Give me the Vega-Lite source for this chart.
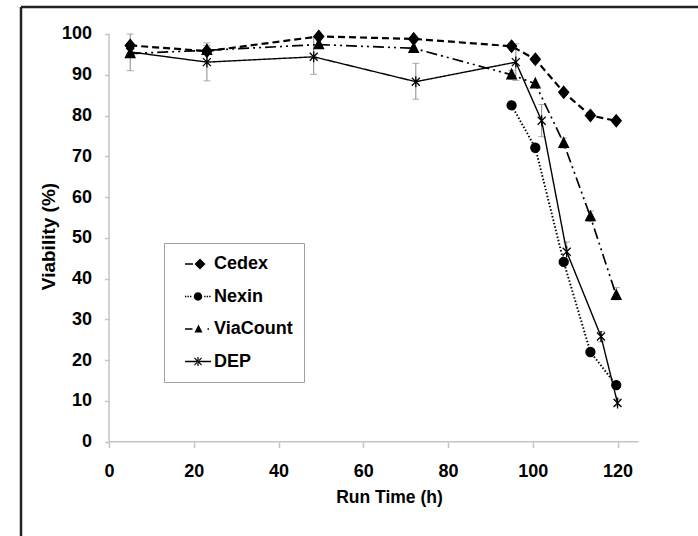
{
  "$schema": "https://vega.github.io/schema/vega-lite/v6.json",
  "width": 677,
  "height": 529,
  "autosize": {"type": "none"},
  "padding": {"left": 21, "top": 7, "right": 0, "bottom": 0},
  "background": "white",
  "config": {
    "view": {"stroke": null},
    "font": "Liberation Sans, Arial, sans-serif"
  },
  "datasets": {
    "series": [
      {"series": "Cedex", "h": 5.0, "v": 97.2},
      {"series": "Cedex", "h": 23.1, "v": 95.8},
      {"series": "Cedex", "h": 49.5, "v": 99.4},
      {"series": "Cedex", "h": 71.9, "v": 98.8},
      {"series": "Cedex", "h": 95.0, "v": 97.0},
      {"series": "Cedex", "h": 100.6, "v": 93.8},
      {"series": "Cedex", "h": 107.3, "v": 85.7},
      {"series": "Cedex", "h": 113.6, "v": 80.0},
      {"series": "Cedex", "h": 119.7, "v": 78.7},
      {"series": "Nexin", "h": 95.0, "v": 82.5},
      {"series": "Nexin", "h": 100.6, "v": 72.1},
      {"series": "Nexin", "h": 107.3, "v": 44.1},
      {"series": "Nexin", "h": 113.6, "v": 22.0},
      {"series": "Nexin", "h": 119.7, "v": 13.9},
      {"series": "ViaCount", "h": 5.0, "v": 95.2},
      {"series": "ViaCount", "h": 23.1, "v": 96.0},
      {"series": "ViaCount", "h": 49.5, "v": 97.4},
      {"series": "ViaCount", "h": 71.9, "v": 96.5},
      {"series": "ViaCount", "h": 95.0, "v": 90.0},
      {"series": "ViaCount", "h": 100.6, "v": 87.8},
      {"series": "ViaCount", "h": 107.3, "v": 73.2},
      {"series": "ViaCount", "h": 113.6, "v": 55.2},
      {"series": "ViaCount", "h": 119.7, "v": 35.9},
      {"series": "DEP", "h": 5.0, "v": 95.6},
      {"series": "DEP", "h": 23.1, "v": 93.1},
      {"series": "DEP", "h": 48.3, "v": 94.4},
      {"series": "DEP", "h": 72.4, "v": 88.3},
      {"series": "DEP", "h": 96.0, "v": 93.1},
      {"series": "DEP", "h": 102.1, "v": 78.7},
      {"series": "DEP", "h": 108.0, "v": 46.6},
      {"series": "DEP", "h": 116.1, "v": 25.8},
      {"series": "DEP", "h": 120.0, "v": 9.5}
    ],
    "errors": [
      {"series": "DEP", "h": 5.0, "v": 91.0, "v2": 100.0},
      {"series": "DEP", "h": 23.1, "v": 88.5, "v2": 97.8},
      {"series": "DEP", "h": 48.3, "v": 90.1, "v2": 99.2},
      {"series": "DEP", "h": 72.4, "v": 84.0, "v2": 92.8},
      {"series": "DEP", "h": 96.0, "v": 88.6, "v2": 97.6},
      {"series": "DEP", "h": 102.1, "v": 74.8, "v2": 82.7},
      {"series": "DEP", "h": 108.0, "v": 44.5, "v2": 49.0},
      {"series": "DEP", "h": 116.1, "v": 24.5, "v2": 27.0},
      {"series": "DEP", "h": 120.0, "v": 8.8, "v2": 10.4},
      {"series": "ViaCount", "h": 95.0, "v": 88.9, "v2": 91.1},
      {"series": "ViaCount", "h": 107.3, "v": 72.0, "v2": 74.5},
      {"series": "ViaCount", "h": 113.6, "v": 54.0, "v2": 56.6},
      {"series": "ViaCount", "h": 119.7, "v": 34.8, "v2": 37.8},
      {"series": "Cedex", "h": 23.1, "v": 95.0, "v2": 97.2}
    ],
    "caps": [
      {"h": 5.0, "v": 91.0}, {"h": 5.0, "v": 100.0},
      {"h": 23.1, "v": 88.5}, {"h": 23.1, "v": 97.8},
      {"h": 48.3, "v": 90.1}, {"h": 48.3, "v": 99.2},
      {"h": 72.4, "v": 84.0}, {"h": 72.4, "v": 92.8},
      {"h": 96.0, "v": 88.6}, {"h": 96.0, "v": 97.6},
      {"h": 102.1, "v": 74.8}, {"h": 102.1, "v": 82.7},
      {"h": 108.0, "v": 44.5}, {"h": 108.0, "v": 49.0},
      {"h": 116.1, "v": 24.5}, {"h": 116.1, "v": 27.0},
      {"h": 120.0, "v": 8.8}, {"h": 120.0, "v": 10.4},
      {"h": 95.0, "v": 88.9}, {"h": 95.0, "v": 91.1},
      {"h": 107.3, "v": 72.0}, {"h": 107.3, "v": 74.5},
      {"h": 113.6, "v": 54.0}, {"h": 113.6, "v": 56.6},
      {"h": 119.7, "v": 34.8}, {"h": 119.7, "v": 37.8},
      {"h": 23.1, "v": 95.0}, {"h": 23.1, "v": 97.2}
    ],
    "axislines": [
      {"h": 0, "h2": 125, "v": 0, "v2": 0},
      {"h": 0, "h2": 0, "v": 0, "v2": 100}
    ],
    "frame": [
      {"h": -20.77, "h2": -20.77, "v": -23.13, "v2": 106.62},
      {"h": -20.77, "h2": 138.99, "v": 106.62, "v2": 106.62}
    ]
  },
  "encoding": {
    "x": {
      "field": "h", "type": "quantitative",
      "scale": {"domain": [-20.77, 138.99], "nice": false, "zero": false},
      "axis": {
        "values": [0, 20, 40, 60, 80, 100, 120],
        "offset": -94.3,
        "domain": false,
        "grid": false,
        "tickColor": "#c4c4c4",
        "tickSize": 6,
        "tickWidth": 1.5,
        "labelFontSize": 18,
        "labelFontWeight": "bold",
        "labelColor": "black",
        "labelPadding": 15,
        "labelFlush": false,
        "labelOverlap": false,
        "title": "Run Time (h)",
        "titleFontSize": 17.5,
        "titleFontWeight": "bold",
        "titleColor": "black",
        "titleX": 368,
        "titleY": 56,
        "titleAlign": "center",
        "titleBaseline": "middle"
      }
    },
    "y": {
      "field": "v", "type": "quantitative",
      "scale": {"domain": [-23.13, 106.62], "nice": false, "zero": false},
      "axis": {
        "values": [0, 10, 20, 30, 40, 50, 60, 70, 80, 90, 100],
        "offset": -88.5,
        "domain": false,
        "grid": false,
        "tickColor": "#c4c4c4",
        "tickSize": 5,
        "tickWidth": 1.5,
        "labelFontSize": 18,
        "labelFontWeight": "bold",
        "labelColor": "black",
        "labelPadding": 13,
        "labelFlush": false,
        "labelOverlap": false,
        "title": "Viability (%)",
        "titleFontSize": 19,
        "titleFontWeight": "bold",
        "titleColor": "black",
        "titleAngle": 270,
        "titleX": -61,
        "titleY": 229,
        "titleAlign": "center",
        "titleBaseline": "middle"
      }
    }
  },
  "layer": [
    {
      "data": {"name": "frame"},
      "mark": {"type": "rule", "color": "#222222", "strokeWidth": 2.5},
      "encoding": {"x2": {"field": "h2"}, "y2": {"field": "v2"}}
    },
    {
      "data": {"name": "axislines"},
      "mark": {"type": "rule", "color": "#c4c4c4", "strokeWidth": 1.5},
      "encoding": {"x2": {"field": "h2"}, "y2": {"field": "v2"}}
    },
    {
      "data": {"name": "errors"},
      "mark": {"type": "rule", "color": "#8a8a8a", "strokeWidth": 1},
      "encoding": {"y2": {"field": "v2"}}
    },
    {
      "data": {"name": "caps"},
      "mark": {"type": "tick", "color": "#8a8a8a", "thickness": 1, "size": 7, "orient": "horizontal"},
      "encoding": {}
    },
    {
      "data": {"name": "series"},
      "mark": {"type": "line", "color": "black"},
      "encoding": {
        "strokeDash": {
          "field": "series", "type": "nominal",
          "scale": {"domain": ["Cedex", "Nexin", "ViaCount", "DEP"], "range": [[7, 4], [1.5, 2], [11, 4, 2, 4, 2, 4], [1, 0]]},
          "legend": null
        },
        "strokeWidth": {
          "field": "series", "type": "nominal",
          "scale": {"domain": ["Cedex", "Nexin", "ViaCount", "DEP"], "range": [2.2, 1.4, 2, 2]},
          "legend": null
        },
        "detail": {"field": "series"}
      }
    },
    {
      "data": {"name": "series"},
      "mark": {"type": "point", "filled": true, "color": "black", "stroke": "black", "strokeWidth": 1.3, "opacity": 1, "size": 100},
      "encoding": {
        "shape": {
          "field": "series", "type": "nominal",
          "scale": {
            "domain": ["Cedex", "Nexin", "ViaCount", "DEP"],
            "range": [
              "M0,-1.2L1,0L0,1.2L-1,0Z",
              "M-0.9,0A0.9,0.9,0,1,0,0.9,0A0.9,0.9,0,1,0,-0.9,0Z",
              "M0,-1.1L0.95,0.8L-0.95,0.8Z",
              "M-0.8,-0.8L0.8,0.8M-0.8,0.8L0.8,-0.8M0,-1.1V1.1"
            ]
          },
          "legend": null
        }
      }
    },
    {
      "data": {"name": "series"},
      "mark": {"type": "point", "filled": true, "color": "black", "opacity": 0},
      "encoding": {
        "shape": {
          "field": "series", "type": "nominal",
          "scale": {
            "domain": ["Cedex", "Nexin", "ViaCount", "DEP"],
            "range": [
              "M-1.3,-0.08H-0.5V0.08H-1.3ZM0.2,-0.55L0.75,0L0.2,0.55L-0.35,0Z",
              "M-1.3,-0.07h0.14v0.14h-0.14ZM-1.05,-0.07h0.14v0.14h-0.14ZM-0.8,-0.07h0.14v0.14h-0.14ZM-0.42,0A0.42,0.42,0,1,0,0.42,0A0.42,0.42,0,1,0,-0.42,0ZM0.62,-0.07h0.14v0.14h-0.14ZM0.87,-0.07h0.14v0.14h-0.14ZM1.12,-0.07h0.14v0.14h-0.14Z",
              "M-1.3,-0.08H-0.55V0.08H-1.3ZM-0.35,0.35L0.05,-0.45L0.45,0.35ZM0.95,-0.07h0.15v0.14h-0.15Z",
              "M-1.3,-0.08H1.3V0.08H-1.3ZM-0.4,-0.32L-0.32,-0.4L0.4,0.32L0.32,0.4ZM-0.4,0.32L-0.32,0.4L0.4,-0.32L0.32,-0.4ZM-0.06,-0.45H0.06V0.45H-0.06Z"
            ]
          },
          "legend": {
            "orient": "none",
            "legendX": 143,
            "legendY": 236,
            "title": null,
            "padding": 11,
            "strokeColor": "#a0a0a0",
            "fillColor": "white",
            "symbolSize": 400,
            "symbolFillColor": "black",
            "symbolStrokeWidth": 0,
            "symbolOpacity": 1,
            "symbolOffset": 13,
            "labelOffset": 6,
            "labelFontSize": 18,
            "labelFontWeight": "bold",
            "labelColor": "black",
            "rowPadding": 13.5
          }
        }
      }
    }
  ],
  "resolve": {"scale": {"shape": "independent"}}
}
